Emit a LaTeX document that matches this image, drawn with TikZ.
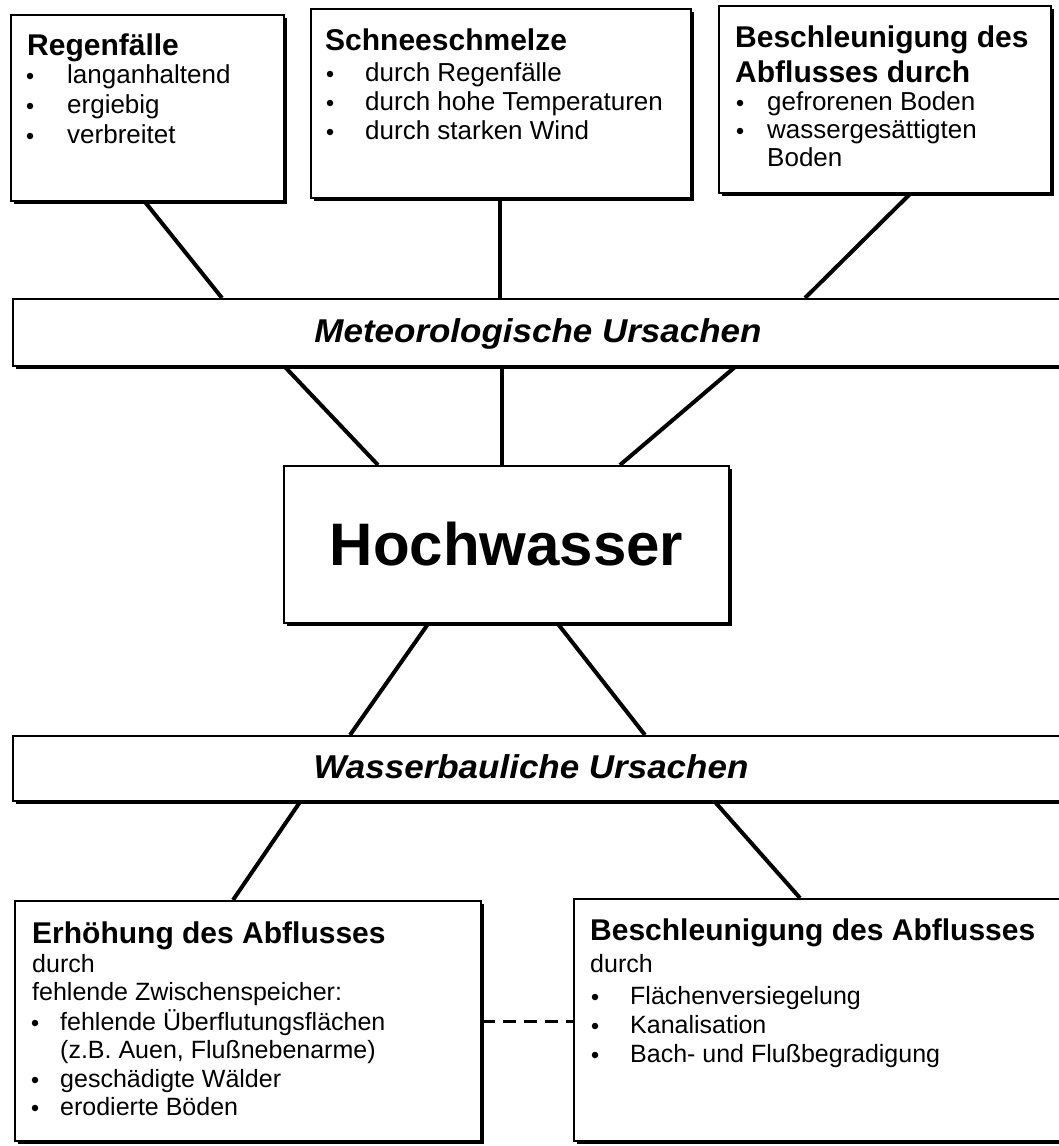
\documentclass[tikz,border=0pt]{standalone}
\usepackage{fontspec}
\setmainfont{Liberation Sans}
\usetikzlibrary{shadows,backgrounds}
\begin{document}
\begin{tikzpicture}[x=1pt,y=-1pt,
  box/.style={draw, line width=2pt, fill=white, rectangle, inner sep=0pt, anchor=north west,
    drop shadow={shadow xshift=2.5pt, shadow yshift=-2.5pt, opacity=1, fill=black}},
  conn/.style={line width=4pt},
  ttl/.style={anchor=base west, inner sep=0pt, font=\fontsize{30}{34}\selectfont\bfseries},
  txt/.style={anchor=base west, inner sep=0pt, font=\fontsize{26}{29}\selectfont},
  txtb/.style={anchor=base west, inner sep=0pt, font=\fontsize{25}{28}\selectfont},
  bul/.style={circle, fill=black, inner sep=0pt, minimum size=6.5pt},
  bartxt/.style={anchor=base, inner sep=0pt, xscale=1.06, font=\fontsize{33}{36}\selectfont\bfseries\itshape},
]
\useasboundingbox (0,0) rectangle (1058,1146);

% boxes
\node[box, minimum width=273pt, minimum height=186pt] (b1) at (10,14) {};
\node[box, minimum width=380pt, minimum height=189pt] (b2) at (310,8) {};
\node[box, minimum width=332pt, minimum height=187pt] (b3) at (718,5) {};
\node[box, minimum width=1070pt, minimum height=67pt] (bar1) at (12,298) {};
\node[box, minimum width=445pt, minimum height=157pt, font=\fontsize{60}{70}\selectfont\bfseries] (hw) at (283,465) {Hochwasser};
\node[box, minimum width=1070pt, minimum height=65pt] (bar2) at (12,735) {};
\node[box, minimum width=466pt, minimum height=240pt] (bl) at (14,900) {};
\node[box, minimum width=500pt, minimum height=242pt] (br) at (573,898) {};

% connectors
\begin{pgfonlayer}{background}
\draw[conn] ([xshift=135pt]b1.south west) -- ([xshift=210pt]bar1.north west);
\draw[conn] ([xshift=190pt]b2.south west) -- ([xshift=488pt]bar1.north west);
\draw[conn] ([xshift=192pt]b3.south west) -- ([xshift=793pt]bar1.north west);
\draw[conn] ([xshift=273pt]bar1.south west) -- ([xshift=95pt]hw.north west);
\draw[conn] ([xshift=490pt]bar1.south west) -- ([xshift=219pt]hw.north west);
\draw[conn] ([xshift=723pt]bar1.south west) -- ([xshift=337pt]hw.north west);
\draw[conn] ([xshift=145pt]hw.south west) -- ([xshift=338pt]bar2.north west);
\draw[conn] ([xshift=275pt]hw.south west) -- ([xshift=633pt]bar2.north west);
\draw[conn] ([xshift=288pt]bar2.south west) -- ([xshift=219pt]bl.north west);
\draw[conn] ([xshift=703pt]bar2.south west) -- ([xshift=227pt]br.north west);
\end{pgfonlayer}
\draw[line width=3pt, dash pattern=on 13pt off 8pt] (bl.east) -- (bl.east -| br.west);

% bar texts
\node[bartxt] (m1) at (538,342) {Meteorologische Ursachen};
\node[bartxt] (m2) at (531,778) {Wasserbauliche Ursachen};

% box 1
\node[ttl] (t1) at (27,55) {Regenfälle};
\node[bul] (d11) at (30,76) {}; \node[txt] (l11) at (67,83) {langanhaltend};
\node[bul] (d12) at (30,106) {}; \node[txt] (l12) at (67,113) {ergiebig};
\node[bul] (d13) at (30,136) {}; \node[txt] (l13) at (67,143) {verbreitet};

% box 2
\node[ttl] (t2) at (325,50) {Schneeschmelze};
\node[bul] (d21) at (330,74) {}; \node[txt] (l21) at (365,81) {durch Regenfälle};
\node[bul] (d22) at (330,103) {}; \node[txt] (l22) at (365,110) {durch hohe Temperaturen};
\node[bul] (d23) at (330,132) {}; \node[txt] (l23) at (365,139) {durch starken Wind};

% box 3
\node[ttl] (t3a) at (735,47) {Beschleunigung des};
\node[ttl] (t3b) at (735,82) {Abflusses durch};
\node[bul] (d31) at (740,103) {}; \node[txt] (l31) at (767,110) {gefrorenen Boden};
\node[bul] (d32) at (740,131) {}; \node[txt] (l32) at (767,138) {wassergesättigten};
\node[txt] (l33) at (767,166) {Boden};

% bottom left
\node[ttl] (t4) at (32,943) {Erhöhung des Abflusses};
\node[txtb] (l41) at (32,972) {durch};
\node[txtb] (l42) at (32,1000) {fehlende Zwischenspeicher:};
\node[bul] (d43) at (35,1023) {}; \node[txtb] (l43) at (60,1030) {fehlende Überflutungsflächen};
\node[txtb] (l44) at (60,1058) {(z.B. Auen, Flußnebenarme)};
\node[bul] (d45) at (35,1080) {}; \node[txtb] (l45) at (60,1087) {geschädigte Wälder};
\node[bul] (d46) at (35,1108) {}; \node[txtb] (l46) at (60,1115) {erodierte Böden};

% bottom right
\node[ttl] (t5) at (590,940) {Beschleunigung des Abflusses};
\node[txtb] (l51) at (590,972) {durch};
\node[bul] (d52) at (595,997) {}; \node[txtb] (l52) at (630,1004) {Flächenversiegelung};
\node[bul] (d53) at (595,1026) {}; \node[txtb] (l53) at (630,1033) {Kanalisation};
\node[bul] (d54) at (595,1055) {}; \node[txtb] (l54) at (630,1062) {Bach- und Flußbegradigung};
\end{tikzpicture}
\end{document}
